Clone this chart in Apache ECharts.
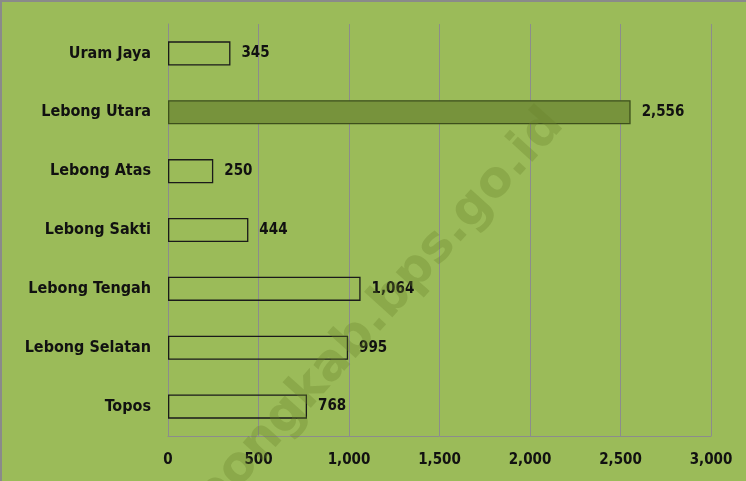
<!DOCTYPE html>
<html><head><meta charset="utf-8">
<script src="https://cdn.jsdelivr.net/npm/echarts@6/dist/echarts.min.js"></script>
<style>
html,body{margin:0;padding:0;background:#9BBB59;}
#c{width:746px;height:481px;box-sizing:border-box;border-left:2px solid #8a8a8a;border-top:2px solid #8a8a8a;}
</style></head>
<body><div id="c"></div>
<script>
const categories = ['Uram Jaya','Lebong Utara','Lebong Atas','Lebong Sakti','Lebong Tengah','Lebong Selatan','Topos'];
const values = [345, 2556, 250, 444, 1064, 995, 768];
const highlight = 'Lebong Utara';
const xTicks = [0, 500, 1000, 1500, 2000, 2500, 3000];
const watermark = 'lebongkab.bps.go.id';

const FONT = '"DejaVu Sans Condensed", "DejaVu Sans", sans-serif';
const chart = echarts.init(document.getElementById('c'));
chart.setOption({
  backgroundColor: '#9BBB59',
  animation: false,
  grid: {left: 166, right: 35, top: 22, bottom: 45, containLabel: false},
  xAxis: {
    type: 'value', min: 0, max: 3000, interval: 500,
    axisLine: {show: true, lineStyle: {color: '#8c8c8c', width: 1}},
    axisTick: {show: false},
    splitLine: {show: true, lineStyle: {color: '#8c8c8c', width: 1}},
    axisLabel: {margin: 17, color: '#111', fontFamily: FONT, fontWeight: 'bold', fontSize: 15,
      formatter: v => v.toLocaleString('en-US')}
  },
  yAxis: {
    type: 'category', data: categories.slice().reverse(),
    axisLine: {show: true, lineStyle: {color: '#8c8c8c'}},
    axisTick: {show: false},
    axisLabel: {margin: 17, color: '#111', fontFamily: FONT, fontWeight: 'bold', fontSize: 16}
  },
  series: [{
    type: 'bar',
    barWidth: '41%',
    data: categories.slice().reverse().map((c, i) => {
      const v = values[categories.length - 1 - i];
      return {value: v, itemStyle: c === highlight
        ? {color: '#77933C', borderColor: '#3d4f1c', borderWidth: 1.3}
        : {color: 'rgba(0,0,0,0)', borderColor: '#1a1a1a', borderWidth: 1.3}};
    }),
    label: {show: true, position: 'right', distance: 11, color: '#111', fontFamily: FONT, fontWeight: 'bold', fontSize: 15,
      formatter: p => p.value.toLocaleString('en-US')}
  }],
  graphic: [{
    type: 'text', x: 186, y: 560, rotation: Math.PI * 48 / 180,
    style: {text: watermark, fill: 'rgba(105,130,45,0.32)', font: 'bold 50px "DejaVu Sans", sans-serif',
      textVerticalAlign: 'bottom'},
    silent: true, z: 100
  }]
});
</script></body></html>
